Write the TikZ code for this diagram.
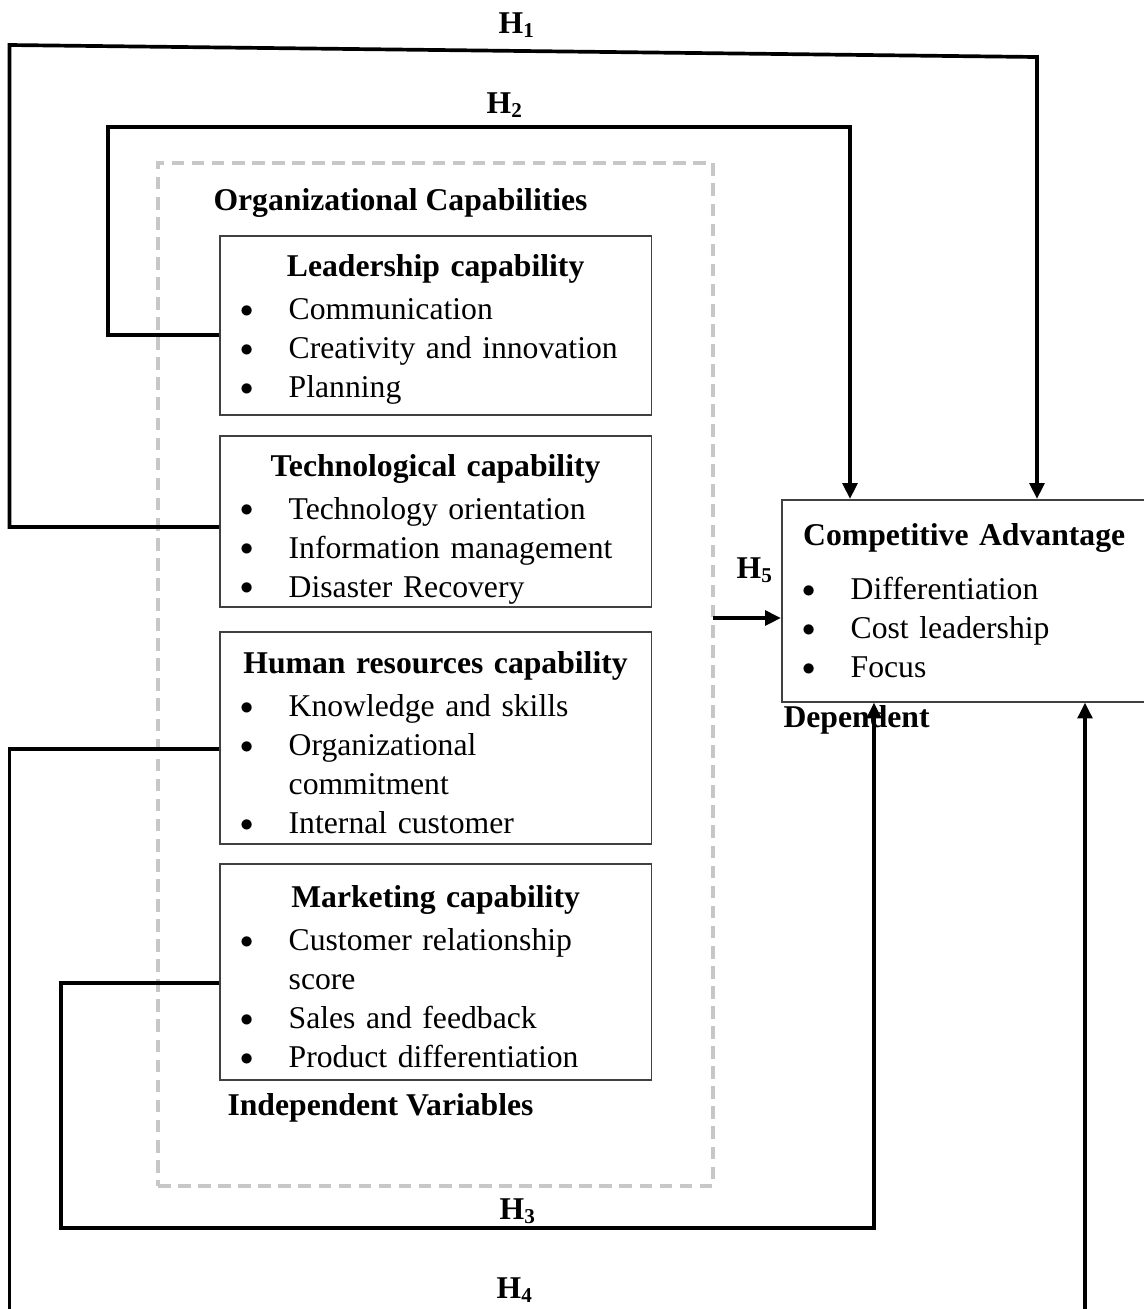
\documentclass[tikz,border=0pt]{standalone}
\usepackage{fontspec}
\setmainfont{Liberation Serif}
\usetikzlibrary{positioning, arrows.meta, fit, backgrounds}

\hyphenpenalty=10000
\exhyphenpenalty=10000
\newcommand{\capdot}{\hspace{-0.4pt}\raisebox{0.9pt}{\fontsize{10}{10}\selectfont$\bullet$}}
\newcommand{\captitle}[1]{\par\noindent\hfill\textbf{#1}\hfill\null\par\vspace{1.5pt}}
\newcommand{\capitem}[1]{\par\hangindent=18pt\hangafter=1\noindent\makebox[18pt][l]{\capdot}#1}
\newcommand{\capend}[1][3pt]{\par\vspace{#1}}

\begin{document}
\begin{tikzpicture}[
  x=0.3788pt, y=-0.3788pt,
  font=\fontsize{12}{14.77}\selectfont,
  capbox/.style ={draw=black!75, line width=0.6pt, fill=white, align=left, text width=147.3pt, inner xsep=8.1pt, inner ysep=0pt, minimum height=#1, execute at end node=\capend},
  cabox/.style  ={draw=black!75, line width=0.6pt, fill=white, align=left, text width=125pt, inner xsep=8.1pt, inner ysep=0pt, minimum height=76.5pt},
  lbl/.style    ={font=\fontsize{12}{14.77}\selectfont\bfseries, inner sep=0pt, anchor=base west},
  hyp/.style    ={font=\fontsize{12}{14.77}\selectfont\bfseries, inner sep=0pt, anchor=base},
  capframe/.style={draw=black!22, line width=1.4pt, dash pattern=on 4.8pt off 2.8pt, inner sep=0pt},
  conn/.style   ={line width=1.4pt, draw=black},
  flow/.style   ={conn, -{Triangle[length=6pt, width=5.5pt]}},
]
\useasboundingbox (0,0) rectangle (1144,1309);

% ---------- organizational capabilities ----------
\coordinate (fnw) at (158,163);
\coordinate (fse) at (713,1186);
\node[capframe, fit=(fnw)(fse)] (orgcap) {};
\node[lbl] (orgttl) at (213,210) {Organizational Capabilities};

\node[capbox=67.8pt, anchor=north west] (lead) at (219,235)
  {\captitle{Leadership capability}\capitem{Communication}\capitem{Creativity and innovation}\capitem{Planning}};
\node[capbox=64.8pt, execute at end node={\capend[-2.5pt]}, below=7.4pt of lead] (tech)
  {\captitle{Technological capability}\capitem{Technology orientation}\capitem{Information management}\capitem{Disaster Recovery}};
\node[capbox=80.3pt, below=8.9pt of tech] (hr)
  {\captitle{Human resources capability}\capitem{Knowledge and skills}\capitem{Organizational commitment}\capitem{Internal customer}};
\node[capbox=81.8pt, below=7pt of hr] (mkt)
  {\captitle{Marketing capability}\capitem{Customer relationship score}\capitem{Sales and feedback}\capitem{Product differentiation}};

\node[lbl] (indep) at (227,1115) {Independent Variables};

% ---------- competitive advantage ----------
\node[cabox, anchor=north west] (ca) at (781,499)
  {\noindent\textbf{Competitive Advantage}\par\vspace{5.6pt}\capitem{Differentiation}\capitem{Cost leadership}\capitem{Focus}};
\node[lbl] (dep) at (783,727) {Dependent};

% ---------- hypotheses ----------
\node[hyp] (h1) at (517,33)   {H\textsubscript{1}};
\node[hyp] (h2) at (505,113)  {H\textsubscript{2}};
\node[hyp] (h3) at (518,1219) {H\textsubscript{3}};
\node[hyp] (h4) at (515,1298) {H\textsubscript{4}};
\node[hyp] (h5) at (755,578)  {H\textsubscript{5}};

\coordinate (h1lft) at (9.5,527);
\coordinate (h1top) at (9.5,45);
\coordinate (h1rgt) at (1037,57);
\coordinate (h2lft) at (108,335);
\coordinate (h2top) at (108,127);
\coordinate (h2rgt) at (850,127);
\coordinate (h3lft) at (61,983);
\coordinate (h3bot) at (61,1228);
\coordinate (h3rgt) at (874,1228);
\coordinate (h4lft) at (9.5,749);
\coordinate (h4bot) at (9.5,1310.5);
\coordinate (h4rgt) at (1085,1310.5);
\coordinate (h5src) at (713,618);

\draw[flow] (tech.west |- h1lft) -- (h1lft) -- (h1top) -- (h1rgt) -- (h1rgt |- ca.north);
\draw[flow] (lead.west |- h2lft) -- (h2lft) -- (h2top) -- (h2rgt) -- (h2rgt |- ca.north);
\draw[flow] (mkt.west |- h3lft) -- (h3lft) -- (h3bot) -- (h3rgt) -- (h3rgt |- ca.south);
\draw[flow] (hr.west |- h4lft) -- (h4lft) -- (h4bot) -- (h4rgt) -- (h4rgt |- ca.south);
\draw[flow] (h5src) -- (h5src -| ca.west);

\end{tikzpicture}
\end{document}
